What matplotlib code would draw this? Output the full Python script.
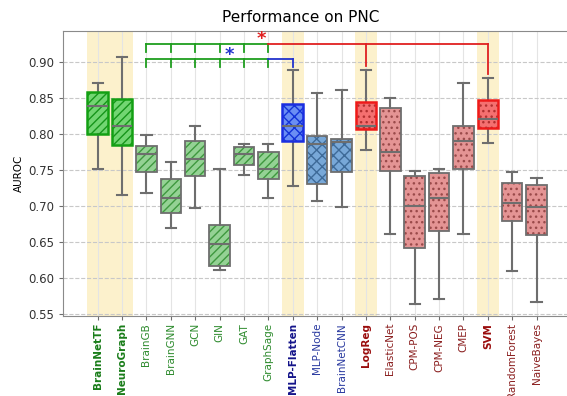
import matplotlib.pyplot as plt
from matplotlib.patches import PathPatch

# AUROC distribution per method (box-plot summary statistics)
methods = ["BrainNetTF", "NeuroGraph", "BrainGB", "BrainGNN", "GCN", "GIN", "GAT",
           "GraphSage", "MLP-Flatten", "MLP-Node", "BrainNetCNN", "LogReg",
           "ElasticNet", "CPM-POS", "CPM-NEG", "CMEP", "SVM", "RandomForest",
           "NaiveBayes"]
family = ["graph"] * 8 + ["neural"] * 3 + ["classic"] * 8
best = ["BrainNetTF", "NeuroGraph", "MLP-Flatten", "LogReg", "SVM"]

whislo = [0.751, 0.716, 0.718, 0.670, 0.698, 0.611, 0.744, 0.711, 0.728, 0.707,
          0.699, 0.778, 0.661, 0.564, 0.570, 0.661, 0.788, 0.609, 0.567]
q1 = [0.800, 0.785, 0.747, 0.690, 0.742, 0.617, 0.757, 0.738, 0.790, 0.731,
      0.747, 0.807, 0.749, 0.642, 0.666, 0.751, 0.809, 0.679, 0.660]
med = [0.839, 0.811, 0.773, 0.712, 0.766, 0.647, 0.772, 0.752, 0.812, 0.787,
       0.789, 0.812, 0.776, 0.700, 0.712, 0.790, 0.822, 0.704, 0.699]
q3 = [0.859, 0.849, 0.784, 0.738, 0.791, 0.674, 0.783, 0.776, 0.842, 0.798,
      0.793, 0.845, 0.837, 0.742, 0.746, 0.811, 0.848, 0.732, 0.729]
whishi = [0.872, 0.908, 0.799, 0.762, 0.812, 0.751, 0.786, 0.786, 0.890, 0.857,
          0.861, 0.889, 0.851, 0.749, 0.752, 0.872, 0.878, 0.747, 0.739]

GRAY = "#6e6e6e"
box_style = {
    ("graph", True): dict(face="#72d672", hatch="#16951a", edge="#13a013", lw=1.8, pat="////"),
    ("graph", False): dict(face="#94d294", hatch="#3f983f", edge=GRAY, lw=1.3, pat="////"),
    ("neural", True): dict(face="#6a8ef4", hatch="#1232d8", edge="#1a2ee0", lw=1.8, pat="xxx"),
    ("neural", False): dict(face="#78a8d8", hatch="#3e6a98", edge=GRAY, lw=1.3, pat="xxx"),
    ("classic", True): dict(face="#f47070", hatch="#b03030", edge="#ee1a1a", lw=1.8, pat="..."),
    ("classic", False): dict(face="#e49494", hatch="#9a4a4a", edge=GRAY, lw=1.3, pat="..."),
}
label_style = {
    "graph": ("#1a7d1a", "#2e8b2e"),
    "neural": ("#14148a", "#2a3aa0"),
    "classic": ("#9a0d0d", "#8b2020"),
}

stats = [dict(label=m, whislo=a, q1=b, med=c, q3=d, whishi=e, fliers=[])
         for m, a, b, c, d, e in zip(methods, whislo, q1, med, q3, whishi)]
pos = list(range(len(methods)))

fig, ax = plt.subplots(figsize=(5.67, 3.96), dpi=100)
fig.subplots_adjust(left=0.1116, right=1.007, bottom=0.202, top=0.922)

# highlighted methods get a pale yellow band (neighbours share one band)
spans = []
for m in best:
    i = methods.index(m)
    if spans and spans[-1][1] == i - 1:
        spans[-1][1] = i
    else:
        spans.append([i, i])
for a, b in spans:
    ax.axvspan(a - 0.45, b + 0.45, color="#fcf1cc", lw=0, zorder=0)

bp = ax.bxp(stats, positions=pos, widths=0.84, capwidths=0.42, patch_artist=True,
            showfliers=False,
            whiskerprops=dict(color=GRAY, lw=1.5),
            capprops=dict(color=GRAY, lw=1.5),
            medianprops=dict(color=GRAY, lw=1.5, zorder=3))

for i, box in enumerate(bp["boxes"]):
    st = box_style[(family[i], methods[i] in best)]
    box.set(facecolor=st["face"], edgecolor=st["hatch"], linewidth=0,
            hatch=st["pat"], zorder=2)
    ax.add_patch(PathPatch(box.get_path(), facecolor="none", edgecolor=st["edge"],
                           lw=st["lw"], zorder=2.5))

ax.set_xlim(-1.41, len(methods) + 0.41)
ax.set_ylim(0.547, 0.944)
ax.set_yticks([0.55, 0.60, 0.65, 0.70, 0.75, 0.80, 0.85, 0.90])
ax.set_xticks(pos)
ax.set_xticklabels(methods, rotation=90, fontsize=7.5)
for i, t in enumerate(ax.get_xticklabels()):
    strong, normal = label_style[family[i]]
    if methods[i] in best:
        t.set_color(strong)
        t.set_fontweight("bold")
    else:
        t.set_color(normal)
ax.tick_params(axis="y", labelsize=8.5, labelcolor="#333333", length=3, color=GRAY)
ax.tick_params(axis="x", length=3, color=GRAY, pad=2)
ax.set_ylabel("AUROC", fontsize=7.5, labelpad=3)

ax.set_axisbelow(True)
ax.grid(axis="x", color="#e4e4e4", lw=0.8)
ax.grid(axis="y", color="#c8c8c8", lw=0.8, ls="--")
for s in ax.spines.values():
    s.set_color("#8a8a8a")

# significance brackets
green, red, blue = "#1f9e1f", "#e02020", "#2233cc"
gnn = [methods.index(m) for m in ["BrainGB", "BrainGNN", "GCN", "GIN", "GAT", "GraphSage"]]
top_y, low_y = 0.926, 0.905
for y, drop in [(top_y, 0.915), (low_y, 0.894)]:
    ax.plot([gnn[0], gnn[-1]], [y, y], color=green, lw=1.3, clip_on=False, zorder=4)
    for g in gnn:
        ax.plot([g, g], [y, drop], color=green, lw=1.3, clip_on=False, zorder=4)

svm, lr, mlp = methods.index("SVM"), methods.index("LogReg"), methods.index("MLP-Flatten")
ax.plot([gnn[-1], svm], [top_y, top_y], color=red, lw=1.3, zorder=4)
ax.plot([lr, lr], [top_y, 0.895], color=red, lw=1.3, zorder=4)
ax.plot([svm, svm], [top_y, 0.884], color=red, lw=1.3, zorder=4)
ax.plot([gnn[-1], mlp], [low_y, low_y], color=blue, lw=1.3, zorder=4)
ax.plot([mlp, mlp], [low_y, 0.894], color=blue, lw=1.3, zorder=4)
ax.text(6.72, 0.933, "*", color=red, fontsize=13, fontweight="bold",
        ha="center", va="center", zorder=5)
ax.text(5.39, 0.911, "*", color=blue, fontsize=13, fontweight="bold",
        ha="center", va="center", zorder=5)

fig.text(0.53, 0.957, "Performance on PNC", ha="center", va="center", fontsize=11)

fig.savefig("out.png", dpi=100)
